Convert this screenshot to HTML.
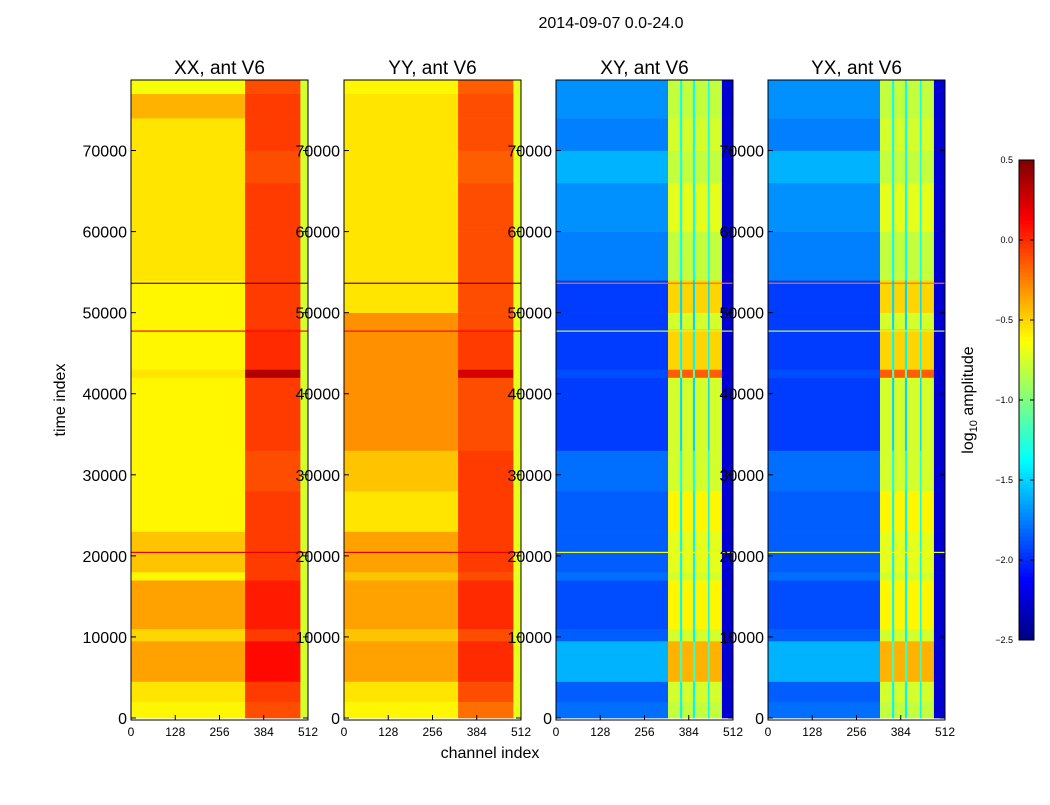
<!DOCTYPE html>
<html><head><meta charset="utf-8"><style>
body{margin:0;background:#fff;width:1050px;height:800px;overflow:hidden}
svg text{font-family:"Liberation Sans",sans-serif}
</style></head><body>
<svg id="chart" width="1050" height="800"></svg>
<script>
const timeEdges=[0,2000,4500,9500,11000,17000,18000,23000,28000,33000,42000,43000,48000,50000,54000,60000,66000,70000,74000,77000,78700];
const xxLeft=[-0.6,-0.55,-0.35,-0.5,-0.35,-0.6,-0.45,-0.6,-0.6,-0.6,-0.55,-0.6,-0.6,-0.6,-0.55,-0.55,-0.55,-0.55,-0.4,-0.65];
const xxRight=[-0.1,-0.05,0.1,-0.05,0.05,-0.05,-0.05,-0.05,-0.1,-0.05,0.35,0.0,-0.05,-0.05,-0.05,-0.05,-0.1,-0.05,-0.05,-0.1];
const yyLeft=[-0.6,-0.55,-0.35,-0.45,-0.35,-0.45,-0.35,-0.55,-0.45,-0.3,-0.3,-0.3,-0.3,-0.55,-0.55,-0.55,-0.55,-0.55,-0.55,-0.6];
const yyRight=[-0.2,-0.1,0.0,-0.1,0.0,-0.1,-0.05,-0.05,-0.05,-0.1,0.25,-0.05,-0.1,-0.1,-0.1,-0.1,-0.15,-0.1,-0.1,-0.15];
const xyLeft=[-1.8,-1.85,-1.6,-1.85,-1.9,-1.8,-1.85,-1.85,-1.8,-1.95,-1.9,-1.95,-1.95,-1.95,-1.75,-1.7,-1.6,-1.75,-1.7,-1.7];
const xyStripe=[-0.8,-0.75,-0.4,-0.75,-0.6,-0.75,-0.7,-0.6,-0.75,-0.75,-0.15,-0.5,-0.75,-0.5,-0.8,-0.7,-0.8,-0.75,-0.8,-0.8];
const xyGap=[-1.4,-1.4,-1.2,-1.4,-1.4,-1.4,-1.4,-1.4,-1.3,-1.5,-1.1,-1.4,-1.5,-1.5,-1.35,-1.35,-1.3,-1.35,-1.35,-1.35];
const yxLeft=xyLeft, yxStripe=xyStripe, yxGap=xyGap;
const stripeRanges=[[324,359],[365,396],[402,440],[444,480]];
const lineEvents=[[53700,0.4],[47800,-0.2],[20500,-0.1]];
const yTicks=[0,10000,20000,30000,40000,50000,60000,70000];
const xTicks=[0,128,256,384,512];
const cbTicks=[-2.5,-2.0,-1.5,-1.0,-0.5,0.0,0.5];
const panelTitles=["XX, ant V6","YY, ant V6","XY, ant V6","YX, ant V6"];
const panelX=[131,344,556,768];
const PW=177, PT=80, PB=718, YMAX=78700, VMIN=-2.5, VMAX=0.5;

const svg=document.getElementById('chart');
const NS="http://www.w3.org/2000/svg";
function jet(v){let t=Math.max(0,Math.min(1,(v-VMIN)/(VMAX-VMIN)));
 const f=x=>Math.max(0,Math.min(1,1.5-Math.abs(4*t-x)));
 return `rgb(${Math.round(f(3)*255)},${Math.round(f(2)*255)},${Math.round(f(1)*255)})`;}
function ys(v){return PB-(v/YMAX)*(PB-PT);}
function mk(tag,attrs,parent){const e=document.createElementNS(NS,tag);for(const k in attrs)e.setAttribute(k,attrs[k]);(parent||svg).appendChild(e);return e;}
function txt(s,x,y,size,anchor,parent){const t=mk('text',{x:x,y:y,'font-size':size,'text-anchor':anchor||'middle',fill:'#000'},parent);t.textContent=s;return t;}

function segs(p,b){
 if(p<2){const L=p==0?xxLeft:yyLeft,R=p==0?xxRight:yyRight;
  const edge=p==0?-0.75:-0.7;
  return [[0,330,L[b]],[330,490,R[b]],[490,512,edge]];}
 const L=p==2?xyLeft:yxLeft,S=p==2?xyStripe:yxStripe,G=p==2?xyGap:yxGap;
 const s=[[0,324,L[b]]];
 let prev=324;
 stripeRanges.forEach(r=>{if(r[0]>prev)s.push([prev,r[0],G[b]]);s.push([r[0],r[1],S[b]]);prev=r[1];});
 s.push([prev,512,-2.25]);return s;}

panelX.forEach((px,p)=>{
 const g=mk('g',{});
 
 
 const xs=c=>px+c/512*PW;
 for(let b=0;b<timeEdges.length-1;b++){
  segs(p,b).forEach(s=>{
   const r=mk('rect',{x:xs(s[0]),y:ys(timeEdges[b+1]),width:xs(s[1])-xs(s[0])+0.3,height:ys(timeEdges[b])-ys(timeEdges[b+1])+0.3,fill:jet(s[2])},g);
   
   
  });
 }
 lineEvents.forEach(e=>{const l=mk('rect',{x:px,y:ys(e[0]),width:PW,height:1.2,fill:jet(p<2?e[1]+0.3:e[1]-0.6)},g);
  
  });
 const fr=mk('rect',{x:px,y:PT,width:PW,height:PB-PT+2,fill:'none',stroke:'#000','stroke-width':1});
 
 
 const t=txt(panelTitles[p],px+PW/2,74,19);
 
 
 yTicks.forEach(v=>{const y=ys(v);mk('line',{x1:px,x2:px+5,y1:y,y2:y,stroke:'#000'});mk('line',{x1:px+PW-5,x2:px+PW,y1:y,y2:y,stroke:'#000'});
  const l=txt(String(v),px-4,y+6,16,'end');
  
  });
 xTicks.forEach(v=>{const x=xs(v);mk('line',{x1:x,x2:x,y1:PB+2,y2:PB-3,stroke:'#000'});
  const l=txt(String(v),x,736,12);
  
  });
});
let t=txt('2014-09-07 0.0-24.0',611,28,16);
t=txt('channel index',490,758,16);
t=txt('time index',65,400,16);t.setAttribute('transform','rotate(-90 65 400)');
const cbX=1019,cbW=15,cbT=160,cbB=640;
const cg=mk('g',{});
for(let i=0;i<120;i++){const v0=VMIN+(VMAX-VMIN)*i/120;mk('rect',{x:cbX,y:cbB-(i+1)*(cbB-cbT)/120,width:cbW,height:(cbB-cbT)/120+0.5,fill:jet(v0+(VMAX-VMIN)/240)},cg);}
mk('rect',{x:cbX,y:cbT,width:cbW,height:cbB-cbT,fill:'none',stroke:'#000'},cg);
cbTicks.forEach(v=>{const y=cbB-(v-VMIN)/(VMAX-VMIN)*(cbB-cbT);mk('line',{x1:cbX,x2:cbX+4,y1:y,y2:y,stroke:'#000'},cg);mk('line',{x1:cbX+cbW-4,x2:cbX+cbW,y1:y,y2:y,stroke:'#000'},cg);
 const l=txt(v.toFixed(1).replace('-','\u2212'),1013,y+3,9,'end',cg);});
const ct=mk('text',{x:973,y:400,'font-size':16,'text-anchor':'middle',transform:'rotate(-90 973 400)'});
ct.innerHTML='log<tspan font-size="11" dy="4">10</tspan><tspan dy="-4"> amplitude</tspan>';

</script>
</body></html>
